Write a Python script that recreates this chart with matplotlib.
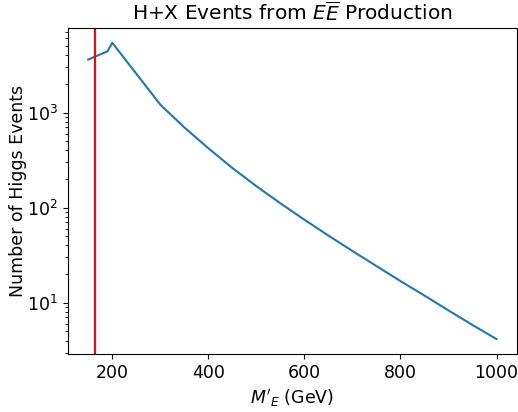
import matplotlib
matplotlib.use("Agg")
import matplotlib.pyplot as plt

# masses (GeV) and number of Higgs events
masas = [150, 190, 200, 300, 350, 400, 450, 500, 550, 600, 650, 700,
         750, 800, 850, 900, 950, 1000]
eventos = [3600, 4400, 5400, 1210, 697, 421, 261, 168, 111, 74.6, 50.8, 35,
           24.3, 16.9, 11.9, 8.3, 5.83, 4.15]
corte = 165

fig = plt.figure(figsize=(5.18, 4.12), dpi=100)
ax = fig.add_axes([0.131, 0.141, 0.867, 0.791])
ax.plot(masas, eventos)
ax.axvline(corte, color='red')
ax.set_yscale('log')
ax.set_title(r'H+X Events from $E\overline{E}$ Production', fontsize=14.5, pad=5)
ax.set_xlabel(r"$M'_E$ (GeV)", fontsize=12.5)
ax.set_ylabel('Number of Higgs Events', fontsize=12.5, labelpad=0)
ax.tick_params(labelsize=12.5)
fig.savefig('out.png')
